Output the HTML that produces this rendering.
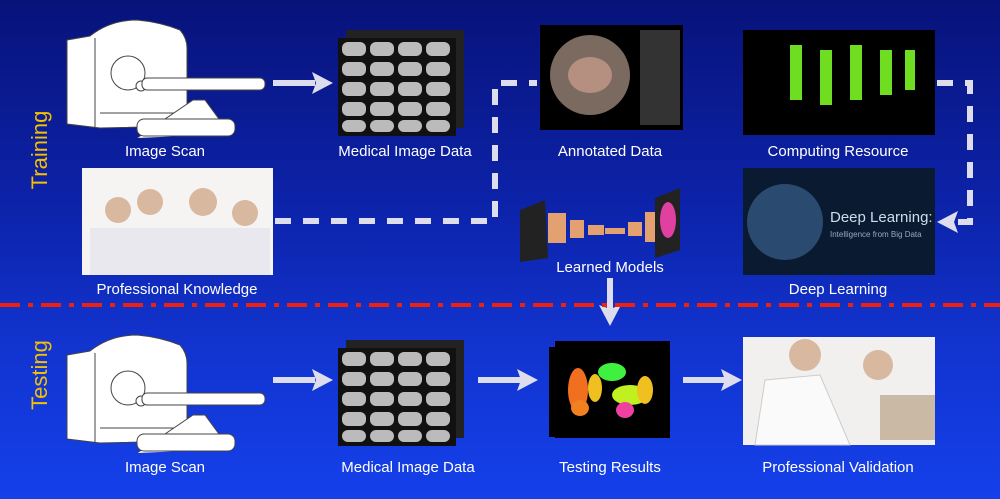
<!DOCTYPE html><html><head><style>
body{margin:0;width:1000px;height:499px;overflow:hidden;font-family:"Liberation Sans",sans-serif}
#bg{position:absolute;left:0;top:0;width:1000px;height:499px;background:linear-gradient(180deg,#08137a 0%,#0c22a8 40%,#1234d0 70%,#1440ea 100%)}
.l{position:absolute;color:#fff;font-size:15px;text-align:center;width:220px;margin-left:-110px}
.v{position:absolute;color:#f5c000;font-size:22px;transform:rotate(-90deg);transform-origin:center}
.b{position:absolute}
</style></head><body><div id="bg"></div>
<div class="v" style="left:0;top:137px;width:80px;text-align:center">Training</div>
<div class="v" style="left:0;top:362px;width:80px;text-align:center">Testing</div>
<svg class="b" width="1000" height="499" style="left:0;top:0">
<defs><g id="scan" stroke="#444" stroke-width="1">
<path d="M2 22 L25 18 Q45 2 72 2 Q95 4 115 12 Q122 20 122 30 L122 108 L35 110 L2 106 Z" fill="#fff"/>
<path d="M30 20 L30 110 M35 95 L122 95" fill="none"/>
<circle cx="63" cy="55" r="17" fill="none"/><circle cx="76" cy="68" r="5" fill="#fff"/>
<path d="M72 120 L128 82 L140 82 L165 116" fill="#fff"/>
<rect x="77" y="60" width="123" height="12" rx="5" fill="#fff"/>
<rect x="72" y="101" width="98" height="17" rx="7" fill="#fff"/></g>
<g id="md"><rect x="8" y="0" width="118" height="98" fill="#222"/><rect x="0" y="8" width="118" height="98" fill="#111"/>
<g fill="#bbb"><rect x="4" y="12" width="24" height="14" rx="6"/><rect x="32" y="12" width="24" height="14" rx="6"/><rect x="60" y="12" width="24" height="14" rx="6"/><rect x="88" y="12" width="24" height="14" rx="6"/>
<rect x="4" y="32" width="24" height="14" rx="6"/><rect x="32" y="32" width="24" height="14" rx="6"/><rect x="60" y="32" width="24" height="14" rx="6"/><rect x="88" y="32" width="24" height="14" rx="6"/>
<rect x="4" y="52" width="24" height="14" rx="6"/><rect x="32" y="52" width="24" height="14" rx="6"/><rect x="60" y="52" width="24" height="14" rx="6"/><rect x="88" y="52" width="24" height="14" rx="6"/>
<rect x="4" y="72" width="24" height="14" rx="6"/><rect x="32" y="72" width="24" height="14" rx="6"/><rect x="60" y="72" width="24" height="14" rx="6"/><rect x="88" y="72" width="24" height="14" rx="6"/>
<rect x="4" y="90" width="24" height="12" rx="6"/><rect x="32" y="90" width="24" height="12" rx="6"/><rect x="60" y="90" width="24" height="12" rx="6"/><rect x="88" y="90" width="24" height="12" rx="6"/></g></g>
</defs>
<use href="#scan" x="65" y="18"/><use href="#scan" x="65" y="333"/>
<use href="#md" x="338" y="30"/><use href="#md" x="338" y="340"/>
<g stroke="#dde" stroke-width="6" fill="none">
<path d="M273 83 H315"/><path d="M273 380 H315"/>
<path d="M478 380 H522"/><path d="M683 380 H725"/>
<path d="M610 278 V310"/>
<path d="M275 221 H495 V83 H537" stroke-dasharray="16 12"/>
<path d="M937 83 H970 V222 H955" stroke-dasharray="16 12"/>
</g>
<g fill="#dde"><path d="M333 83 L312 72 L316 83 L312 94Z"/><path d="M333 380 L312 369 L316 380 L312 391Z"/><path d="M538 380 L517 369 L521 380 L517 391Z"/><path d="M742 380 L721 369 L725 380 L721 391Z"/><path d="M610 326 L599 305 L610 309 L621 305Z"/><path d="M937 222 L958 211 L954 222 L958 233Z"/></g>
<path d="M0 305 H1000" stroke="#f02010" stroke-width="4" stroke-dasharray="20 8 5 8"/>
<rect x="540" y="25" width="143" height="105" fill="#000"/><ellipse cx="590" cy="75" rx="40" ry="40" fill="#7a6a60"/><ellipse cx="590" cy="75" rx="22" ry="18" fill="#b59080"/><rect x="640" y="30" width="40" height="95" fill="#333"/>
<rect x="743" y="30" width="192" height="105" fill="#000"/><g fill="#6fdd20"><rect x="790" y="45" width="12" height="55"/><rect x="820" y="50" width="12" height="55"/><rect x="850" y="45" width="12" height="55"/><rect x="880" y="50" width="12" height="45"/><rect x="905" y="50" width="10" height="40"/></g>
<rect x="743" y="168" width="192" height="107" fill="#0a1a30"/><circle cx="785" cy="222" r="38" fill="#2a4a70"/><text x="830" y="222" fill="#cde" font-size="15" font-family="Liberation Sans">Deep Learning:</text><text x="830" y="237" fill="#9ab" font-size="8" font-family="Liberation Sans">Intelligence from Big Data</text>
<rect x="82" y="168" width="191" height="107" fill="#f6f4f2"/><g fill="#d9b8a0"><circle cx="118" cy="210" r="13"/><circle cx="150" cy="202" r="13"/><circle cx="203" cy="202" r="14"/><circle cx="245" cy="213" r="13"/></g><g fill="#e8e8ee"><rect x="90" y="228" width="180" height="47"/></g>
<path d="M520 210 L545 200 L548 258 L520 262Z" fill="#222"/><g fill="#e3a070"><rect x="548" y="213" width="18" height="30"/><rect x="570" y="220" width="14" height="18"/><rect x="588" y="225" width="16" height="10"/><rect x="605" y="228" width="20" height="6"/><rect x="628" y="222" width="14" height="14"/><rect x="645" y="212" width="16" height="30"/></g><path d="M655 198 L680 188 L680 250 L655 258Z" fill="#222"/><ellipse cx="668" cy="220" rx="8" ry="18" fill="#e040a0"/>
<rect x="555" y="341" width="115" height="97" fill="#000"/><rect x="549" y="347" width="115" height="90" fill="#000"/>
<ellipse cx="578" cy="390" rx="10" ry="22" fill="#f07020"/><ellipse cx="612" cy="372" rx="14" ry="9" fill="#40f040"/><ellipse cx="630" cy="395" rx="18" ry="10" fill="#c0f020"/><ellipse cx="595" cy="388" rx="7" ry="14" fill="#f0c020"/><ellipse cx="625" cy="410" rx="9" ry="8" fill="#f040a0"/><ellipse cx="580" cy="408" rx="9" ry="8" fill="#f08020"/><ellipse cx="645" cy="390" rx="8" ry="14" fill="#f0c020"/>
<rect x="743" y="337" width="192" height="108" fill="#f2f0ee"/><circle cx="805" cy="355" r="16" fill="#d9b8a0"/><circle cx="878" cy="365" r="15" fill="#d9b8a0"/><path d="M755 445 L765 380 L820 375 L850 445Z" fill="#fafafa" stroke="#ccc"/><rect x="880" y="395" width="55" height="45" fill="#c9b9a5"/>
</svg>
<div class="l" style="left:165px;top:143px">Image Scan</div>
<div class="l" style="left:405px;top:143px">Medical Image Data</div>
<div class="l" style="left:610px;top:143px">Annotated Data</div>
<div class="l" style="left:838px;top:143px">Computing Resource</div>
<div class="l" style="left:177px;top:281px">Professional Knowledge</div>
<div class="l" style="left:610px;top:259px">Learned Models</div>
<div class="l" style="left:838px;top:281px">Deep Learning</div>
<div class="l" style="left:165px;top:459px">Image Scan</div>
<div class="l" style="left:408px;top:459px">Medical Image Data</div>
<div class="l" style="left:610px;top:459px">Testing Results</div>
<div class="l" style="left:838px;top:459px">Professional Validation</div>
</body></html>
